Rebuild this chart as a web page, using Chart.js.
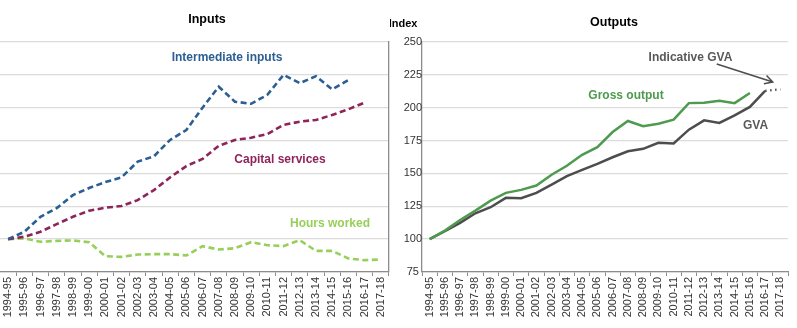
<!DOCTYPE html>
<html lang="en">
<head>
  <meta charset="UTF-8" />
  <title>Inputs and Outputs</title>
  <script src="https://cdn.jsdelivr.net/npm/chart.js"></script>
  <style>
    html, body { margin: 0; padding: 0; background: #fff; }
    .wrap { position: relative; width: 797px; height: 328px; }
    .panel { position: absolute; top: 0; height: 328px; }
    #leftBox { left: 0; width: 395px; }
    #rightBox { left: 390px; width: 407px; }
  </style>
</head>
<body>
  <div class="wrap">
    <div class="panel" id="leftBox"><canvas id="inputsChart"></canvas></div>
    <div class="panel" id="rightBox"><canvas id="outputsChart"></canvas></div>
  </div>

  <script>
    const years = ['1994-95', '1995-96', '1996-97', '1997-98', '1998-99', '1999-00', '2000-01',
      '2001-02', '2002-03', '2003-04', '2004-05', '2005-06', '2006-07', '2007-08', '2008-09',
      '2009-10', '2010-11', '2011-12', '2012-13', '2013-14', '2014-15', '2015-16', '2016-17', '2017-18'];

    // Inputs panel
    const intermediateInputs = [100, 105.6, 117, 123.6, 133.5, 138.9, 143.4, 147, 159, 163, 175.5, 183,
      200, 216, 204.6, 203, 209.8, 225, 218.7, 224, 214, 221, null, null];
    const capitalServices = [100, 101.8, 105.6, 111.4, 117, 121.6, 123.9, 125.2, 129.7, 137.3, 147, 155.6,
      161, 171, 175.5, 177.2, 180, 186.9, 189.4, 190.7, 194.5, 198.8, 203.9, null];
    const hoursWorked = [100, 100.5, 98, 98.7, 99, 97.7, 87, 86.5, 88.3, 88.6, 88.6, 87.6,
      94.7, 92.1, 93.1, 97.7, 95.4, 94.7, 99.2, 91.1, 91.1, 85.3, 84, 84.5];

    // Outputs panel
    const grossOutput = [100, 106.5, 114.6, 121.7, 129.3, 135.2, 137.5, 140.8, 149, 155.8, 164.2, 170,
      181.5, 189.9, 186, 187.8, 190.9, 203.5, 203.8, 205.3, 203.5, 211.2, null, null];
    const gva = [100, 106, 112.4, 119.7, 124.3, 131.4, 131.1, 135.2, 141.5, 147.9, 152.7, 157.3,
      162.3, 166.9, 168.7, 173.3, 172.8, 183.3, 190.4, 188.4, 194.2, 200.6, 212.8, null];
    const indicativeGva = [null, null, null, null, null, null, null, null, null, null, null, null,
      null, null, null, null, null, null, null, null, null, null, 212.8, 214];

    const yTicks = [75, 100, 125, 150, 175, 200, 225, 250];

    const font = 'Liberation Sans, Arial, sans-serif';
    const axisGrey = '#8c8c8c';
    const gridGrey = '#dcdcdc';

    // simple text labels drawn after the datasets
    function labelsPlugin(items, extra) {
      return {
        id: 'labels',
        afterDraw(chart) {
          const c = chart.ctx;
          c.save();
          c.textAlign = 'center';
          c.textBaseline = 'middle';
          items.forEach(t => {
            c.font = 'bold ' + t.size + 'px ' + font;
            c.fillStyle = t.color;
            c.fillText(t.text, t.x, t.y);
          });
          if (extra) extra(chart, c);
          c.restore();
        }
      };
    }

    function xAxis() {
      return {
        offset: true,
        grid: { drawOnChartArea: false, offset: true, tickLength: 4, color: axisGrey, lineWidth: 1 },
        border: { color: axisGrey, width: 1.3 },
        ticks: { minRotation: 90, maxRotation: 90, autoSkip: false, padding: 1,
                 color: '#333', font: { family: font, size: 11 } },
        afterFit(scale) { scale.height = 56; }
      };
    }

    function line(label, data, color, dash, width) {
      return {
        label: label, data: data, borderColor: color, backgroundColor: color,
        borderWidth: width, borderDash: dash, pointRadius: 0, tension: 0, spanGaps: false
      };
    }

    new Chart(document.getElementById('inputsChart'), {
      type: 'line',
      data: {
        labels: years,
        datasets: [
          line('Intermediate inputs', intermediateInputs, '#2b5e93', [6, 3.5], 2.6),
          line('Capital services', capitalServices, '#8e2459', [6, 3.5], 2.6),
          line('Hours worked', hoursWorked, '#98cf5a', [6, 3.5], 2.6)
        ]
      },
      options: {
        responsive: true,
        maintainAspectRatio: false,
        animation: false,
        layout: { padding: { top: 42, left: 0, right: 0, bottom: 0 } },
        plugins: { legend: { display: false }, tooltip: { enabled: false } },
        scales: {
          x: xAxis(),
          y: {
            position: 'right',
            min: 75, max: 250,
            afterBuildTicks(scale) { scale.ticks = yTicks.map(v => ({ value: v })); },
            grid: { color: gridGrey, lineWidth: 1.3, drawTicks: false },
            border: { color: axisGrey, width: 1.3 },
            ticks: { display: false },
            afterFit(scale) { scale.width = 2; }
          }
        }
      },
      plugins: [labelsPlugin([
        { text: 'Inputs', x: 207, y: 20, size: 12.5, color: '#000' },
        { text: 'Intermediate inputs', x: 227, y: 58, size: 12, color: '#2b5e93' },
        { text: 'Capital services', x: 280, y: 160, size: 12, color: '#8e2459' },
        { text: 'Hours worked', x: 330, y: 224, size: 12, color: '#98cf5a' }
      ])]
    });

    new Chart(document.getElementById('outputsChart'), {
      type: 'line',
      data: {
        labels: years,
        datasets: [
          line('Gross output', grossOutput, '#4e9a4e', [], 2.5),
          line('GVA', gva, '#4d4d4d', [], 2.5),
          line('Indicative GVA', indicativeGva, '#4d4d4d', [1.5, 3.5], 2.3)
        ]
      },
      options: {
        responsive: true,
        maintainAspectRatio: false,
        animation: false,
        layout: { padding: { top: 42, left: 0, right: 9, bottom: 0 } },
        plugins: { legend: { display: false }, tooltip: { enabled: false } },
        scales: {
          x: xAxis(),
          y: {
            position: 'left',
            min: 75, max: 250,
            afterBuildTicks(scale) { scale.ticks = yTicks.map(v => ({ value: v })); },
            grid: { color: gridGrey, lineWidth: 1.3, drawTicks: false },
            border: { color: axisGrey, width: 1.3 },
            ticks: { crossAlign: 'center', padding: 0, color: '#333', font: { family: font, size: 11 } },
            afterFit(scale) { scale.width = 32; }
          }
        }
      },
      plugins: [labelsPlugin([
        { text: 'Index', x: 13, y: 23.5, size: 11, color: '#000' },
        { text: 'Outputs', x: 224, y: 23, size: 12.5, color: '#000' },
        { text: 'Gross output', x: 236, y: 95.5, size: 12, color: '#4e9a4e' },
        { text: 'GVA', x: 365.5, y: 125.5, size: 12, color: '#595959' },
        { text: 'Indicative GVA', x: 300.5, y: 58, size: 12, color: '#595959' }
      ], (chart, c) => {
        // arrow from the "Indicative GVA" label to the dotted segment
        const x = chart.scales.x, y = chart.scales.y;
        const tx = x.getPixelForValue(22.5), ty = y.getPixelForValue(219.5);
        const sx = tx - 56, sy = ty - 18;
        const ang = Math.atan2(ty - sy, tx - sx);
        c.strokeStyle = '#4d4d4d';
        c.lineWidth = 1.5;
        c.beginPath();
        c.moveTo(sx, sy);
        c.lineTo(tx, ty);
        c.moveTo(tx - 9 * Math.cos(ang - 0.5), ty - 9 * Math.sin(ang - 0.5));
        c.lineTo(tx, ty);
        c.lineTo(tx - 9 * Math.cos(ang + 0.5), ty - 9 * Math.sin(ang + 0.5));
        c.stroke();
      })]
    });
  </script>
</body>
</html>
